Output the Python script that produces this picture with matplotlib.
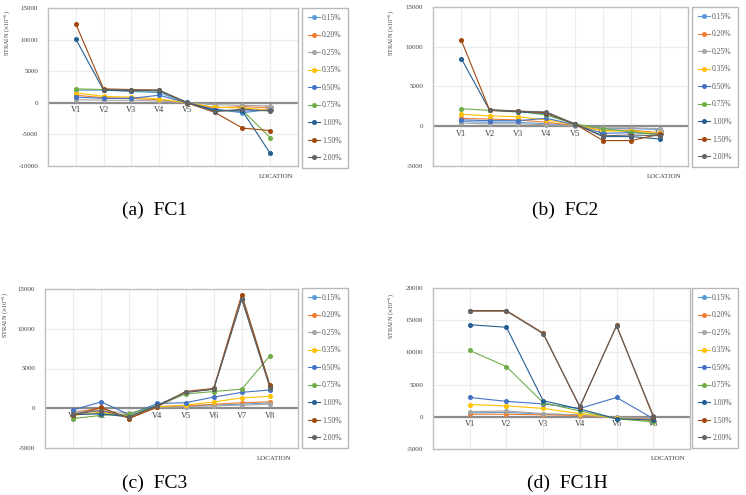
import numpy as np
import matplotlib
matplotlib.use("Agg")
import matplotlib.pyplot as plt

plt.rcParams['font.family'] = ['Liberation Serif', 'DejaVu Serif']
plt.rcParams['mathtext.fontset'] = 'stix'

nan = np.nan
levels = ['0.15%', '0.20%', '0.25%', '0.35%', '0.50%', '0.75%', '1.00%', '1.50%', '2.00%']
colors = ['#5B9BD5', '#ED7D31', '#A5A5A5', '#FFC000', '#4472C4', '#70AD47', '#255E91', '#9E480E', '#636363']

# FC1
loc_fc1 = ['V1', 'V2', 'V3', 'V4', 'V5', 'V6', 'V7', 'V8']
fc1 = [
    [2000, 2000, 1800, 1600, 0, -1000, -1600, -1000],
    [1200, 800, 700, 500, 0, -800, -600, -800],
    [500, 400, 400, 300, 0, -300, -400, -500],
    [1600, 1000, 900, 600, 0, -700, -800, -1200],
    [900, 700, 700, 1200, 0, -1100, -1300, -1200],
    [2200, 2100, 1900, 1900, 0, -1300, -1200, -5500],
    [10100, 2000, 1900, 1900, 100, -1200, -1300, -8000],
    [12500, 2200, 2100, 2000, 0, -1500, -4000, -4400],
    [nan, 2100, 2000, 2000, 0, -1400, -1000, -1300],
]

# FC2
loc_fc2 = ['V1', 'V2', 'V3', 'V4', 'V5', 'V6', 'V7', 'V8']
fc2 = [
    [600, 500, 500, 300, 100, -300, -300, -400],
    [1000, 900, 800, 500, 100, -500, -500, -800],
    [400, 300, 300, 200, 50, -200, -200, -300],
    [1500, 1300, 1200, 800, 200, -600, -600, -900],
    [800, 700, 700, 1000, 200, -900, -800, -1000],
    [2200, 2000, 1900, 1400, 300, -300, -700, -1100],
    [8500, 2000, 1800, 1600, 300, -1300, -1300, -1600],
    [10800, 2000, 1900, 1700, 300, -1800, -1800, -1000],
    [nan, 2100, 1900, 1800, 300, -1200, -1100, -1200],
]

# FC3
loc_fc3 = ['V1', 'V2', 'V3', 'V4', 'V5', 'V6', 'V7', 'V8']
fc3 = [
    [-600, -700, -900, 200, 300, 400, 500, 700],
    [-500, 0, -1200, 100, 300, 500, 700, 800],
    [-400, -300, -600, 100, 200, 300, 400, 500],
    [-900, -500, -1000, 200, 400, 800, 1300, 1500],
    [-200, 800, -800, 600, 700, 1400, 2000, 2300],
    [-1300, -900, -700, 300, 1800, 2100, 2400, 6600],
    [-800, -700, -1100, 400, 2000, 2400, 13800, 2800],
    [-900, 100, -1300, 200, 2100, 2500, 14300, 2900],
    [-700, -300, -1100, 300, 2000, 2400, 13700, 2600],
]

# FC1H
loc_fc1h = ['V1', 'V2', 'V3', 'V4', 'V6', 'V8']
fc1h = [
    [600, 700, 400, 300, -200, -400],
    [400, 400, 300, 200, -100, -300],
    [800, 900, 500, 300, -100, -200],
    [1900, 1700, 1300, 500, -200, -600],
    [3000, 2400, 2000, 1300, 3000, -300],
    [10300, 7800, 2200, 900, -300, -800],
    [14300, 13900, 2500, 1200, -300, -500],
    [16500, 16500, 13000, 1500, 14200, 0],
    [16400, 16400, 12900, 1600, 14100, 200],
]

W, H = 746, 495
fig = plt.figure(figsize=(W / 100, H / 100), dpi=100)


def fx(px):
    return px / W


def fy(py):
    return 1 - py / H


def panel(box, legbox, ytitle_pos, loc_pos, cap_pos, caption, locs, data, ylim, yticks):
    l, t, r, b = box
    ax = fig.add_axes([fx(l), fy(b), fx(r) - fx(l), fy(t) - fy(b)])
    x = np.arange(1, len(locs) + 1)
    for vals, lab, c in zip(data, levels, colors):
        ax.plot(x, vals, '-o', color=c, lw=0.8, ms=2.6, label=lab, zorder=3)
    ax.axhline(0, color='#8c8c8c', lw=1.6, zorder=1.5)
    for xi, name in zip(x, locs):
        ax.annotate(name, (xi, 0), xytext=(0, -2.5), textcoords='offset points',
                    ha='center', va='top', fontsize=6, color='#404040', zorder=1)
    ax.set_xlim(0, len(locs) + 1)
    ax.set_ylim(*ylim)
    ax.set_xticks(x)
    ax.set_xticklabels([])
    ax.set_yticks(yticks)
    ax.set_yticklabels([str(v) for v in yticks], fontsize=5, color='#404040')
    ax.tick_params(length=0, pad=7)
    ax.grid(True, color='#ececec', lw=0.8)
    ax.set_axisbelow(True)
    for s in ax.spines.values():
        s.set_color('#bfbfbf')
        s.set_linewidth(1.0)

    ll, lt, lr, lb = legbox
    leg = ax.legend(loc='upper left', bbox_to_anchor=(fx(ll), fy(lt)),
                    bbox_transform=fig.transFigure, fontsize=5.5, frameon=True,
                    fancybox=False, edgecolor='#a6a6a6', labelspacing=1.25,
                    handlelength=1.6, handletextpad=0.3, borderpad=0.75,
                    borderaxespad=0, labelcolor='#595959')
    leg.get_frame().set_linewidth(1.0)

    fig.text(fx(ytitle_pos[0]), fy(ytitle_pos[1]), r'STRAIN ($\times$10$^{-6}$)',
             rotation=90, ha='center', va='center', fontsize=4.5, color='#404040')
    fig.text(fx(loc_pos[0]), fy(loc_pos[1]), 'LOCATION', ha='center', va='center',
             fontsize=5, color='#404040')
    fig.text(fx(cap_pos[0]), fy(cap_pos[1]), caption, ha='center', va='center',
             fontsize=14, color='black')
    return ax


panel((48, 8, 298, 166), (302, 8, 343, 167), (8, 33), (276, 176), (155, 210),
      '(a)  FC1', loc_fc1, fc1, (-10000, 15000), [-10000, -5000, 0, 5000, 10000, 15000])
panel((433, 7, 688, 166), (692, 7, 733, 167), (392, 33), (664, 176), (565, 210),
      '(b)  FC2', loc_fc2, fc2, (-5000, 15000), [-5000, 0, 5000, 10000, 15000])
panel((45, 289, 298, 448), (302, 288, 343, 450), (6, 315), (274, 459), (155, 483),
      '(c)  FC3', loc_fc3, fc3, (-5000, 15000), [-5000, 0, 5000, 10000, 15000])
panel((433, 288, 690, 449), (692, 288, 740, 448), (392, 316), (668, 459), (567, 483),
      '(d)  FC1H', loc_fc1h, fc1h, (-5000, 20000), [-5000, 0, 5000, 10000, 15000, 20000])

fig.savefig('out.png', dpi=100)
